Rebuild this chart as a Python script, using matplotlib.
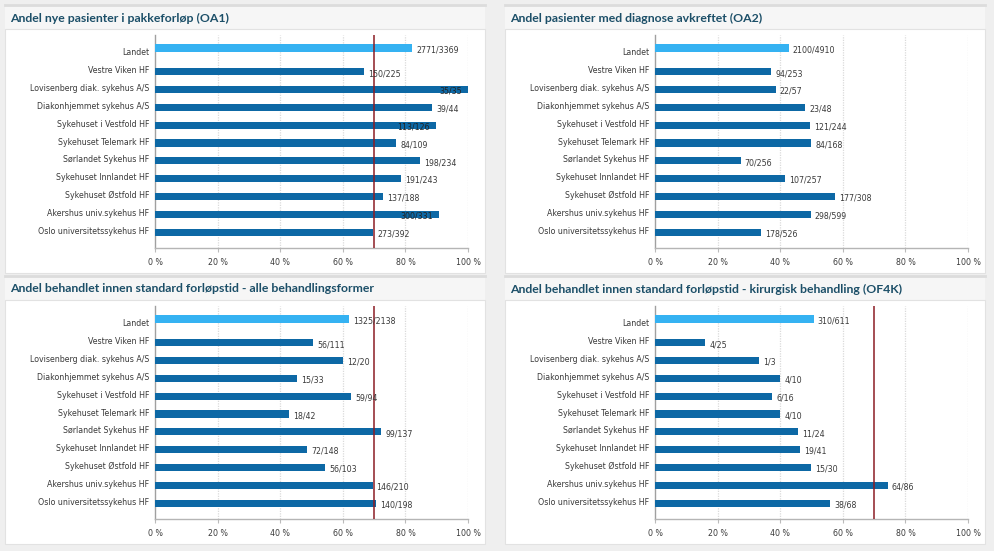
import matplotlib
matplotlib.use("Agg")
import matplotlib.pyplot as plt
from matplotlib.patches import Rectangle
from matplotlib.lines import Line2D
from matplotlib import font_manager as fm
import matplotlib.transforms as mtrans

# ---------------- data ----------------
categories = ["Landet", "Vestre Viken HF", "Lovisenberg diak. sykehus A/S",
              "Diakonhjemmet sykehus A/S", "Sykehuset i Vestfold HF",
              "Sykehuset Telemark HF", "Sørlandet Sykehus HF",
              "Sykehuset Innlandet HF", "Sykehuset Østfold HF",
              "Akershus univ.sykehus HF", "Oslo universitetssykehus HF"]

titles = ["Andel nye pasienter i pakkeforløp (OA1)",
          "Andel pasienter med diagnose avkreftet (OA2)",
          "Andel behandlet innen standard forløpstid - alle behandlingsformer",
          "Andel behandlet innen standard forløpstid - kirurgisk behandling (OF4K)"]

oa1_num = [2771, 150, 35, 39, 113, 84, 198, 191, 137, 300, 273]
oa1_den = [3369, 225, 35, 44, 126, 109, 234, 243, 188, 331, 392]

oa2_num = [2100, 94, 22, 23, 121, 84, 70, 107, 177, 298, 178]
oa2_den = [4910, 253, 57, 48, 244, 168, 256, 257, 308, 599, 526]

alle_num = [1325, 56, 12, 15, 59, 18, 99, 72, 56, 146, 140]
alle_den = [2138, 111, 20, 33, 94, 42, 137, 148, 103, 210, 198]

of4k_num = [310, 4, 1, 4, 6, 4, 11, 19, 15, 64, 38]
of4k_den = [611, 25, 3, 10, 16, 10, 24, 41, 30, 86, 68]

targets = [70, None, 70, 70]
x_ticks = [0, 20, 40, 60, 80, 100]
x_ticklabels = ["0 %", "20 %", "40 %", "60 %", "80 %", "100 %"]

# ---------------- style ----------------
W, H = 995, 551
FIG_BG = "#efefef"
BAND_BG = "#f6f6f6"
TITLE_COL = "#1c4f68"
BAR_COL = "#0d68a5"
LANDET_COL = "#35b2f2"
TARGET_COL = "#8b1c24"
TEXT_COL = "#3a3a3a"

lab_font = fm.FontProperties(family="DejaVu Sans", stretch="condensed", size=6.3)
title_font = fm.FontProperties(family="Lato", weight="bold", size=8.8)

fig = plt.figure(figsize=(W / 100, H / 100), dpi=100, facecolor=FIG_BG)


def fx(x):
    return x / W


def fy(y):
    return 1 - y / H


panels = [(5, 5), (505, 5), (5, 276), (505, 276)]
datasets = [(oa1_num, oa1_den), (oa2_num, oa2_den),
            (alle_num, alle_den), (of4k_num, of4k_den)]

for (px, py), title, (num, den), tgt in zip(panels, titles, datasets, targets):
    # panel decoration
    fig.add_artist(Rectangle((fx(px), fy(py + 24)), 480 / W, 24 / H,
                             transform=fig.transFigure, facecolor=BAND_BG,
                             edgecolor="none", zorder=0))
    fig.add_artist(Line2D([fx(px), fx(px + 480)], [fy(py), fy(py)],
                          transform=fig.transFigure, color="#dcdcdc", lw=2, zorder=1))
    fig.add_artist(Rectangle((fx(px), fy(py + 268)), 480 / W, 244 / H,
                             transform=fig.transFigure, facecolor="white",
                             edgecolor="#e2e2e2", lw=0.8, zorder=0))
    fig.text(fx(px + 5), fy(py + 13), title, ha="left", va="center",
             fontproperties=title_font, color=TITLE_COL)

    left, right = px + 150, px + 463
    top, bottom = py + 30, py + 243
    ax = fig.add_axes([fx(left), fy(bottom), (right - left) / W, (bottom - top) / H])
    ax.set_facecolor("none")

    pct = [100.0 * n / d for n, d in zip(num, den)]
    n = len(categories)
    ypos = list(range(n))
    bar_y = [y - 0.22 if i == 0 else y + 0.11 for i, y in enumerate(ypos)]
    colors = [LANDET_COL] + [BAR_COL] * (n - 1)
    ax.barh(bar_y, pct, height=0.40, color=colors, zorder=3)

    ax.set_xlim(0, 100)
    ax.set_ylim(11.0, -0.95)
    ax.set_yticks(ypos)
    ax.set_yticklabels(categories, fontproperties=lab_font, color=TEXT_COL)
    ax.tick_params(axis="y", length=0, pad=4)
    ax.set_xticks(x_ticks)
    ax.set_xticklabels(x_ticklabels, fontproperties=lab_font, color=TEXT_COL)
    ax.tick_params(axis="x", length=3, color="#bbbbbb", pad=4)
    for s in ["top", "right"]:
        ax.spines[s].set_visible(False)
    ax.spines["left"].set_color("#a0a0a0")
    ax.spines["bottom"].set_color("#b5b5b5")
    ax.spines["left"].set_linewidth(1.0)
    ax.spines["bottom"].set_linewidth(1.0)
    for t in x_ticks[1:]:
        ax.axvline(t, color="#dadada", lw=0.9, ls=(0, (1, 1)), zorder=1)
    if tgt is not None:
        ax.axvline(tgt, color=TARGET_COL, lw=1.1, zorder=5)

    # value labels
    fig.canvas.draw()
    renderer = fig.canvas.get_renderer()
    ax_right_px = ax.get_window_extent(renderer).x1
    for y, p, nn, dd in zip(bar_y, pct, num, den):
        lab = f"{nn}/{dd}"
        txt = ax.text(p, y + 0.1, lab, ha="left", va="center",
                      fontproperties=lab_font, color=TEXT_COL, zorder=6)
        txt.set_transform(ax.transData + mtrans.ScaledTranslation(
            4 / 100, 0, fig.dpi_scale_trans))
        ext = txt.get_window_extent(renderer)
        if ext.x1 > ax_right_px + 1:
            txt.set_ha("right")
            txt.set_color("#222222")
            txt.set_transform(ax.transData + mtrans.ScaledTranslation(
                -6 / 100, 0, fig.dpi_scale_trans))

fig.savefig("out.png", dpi=100, facecolor=FIG_BG)
